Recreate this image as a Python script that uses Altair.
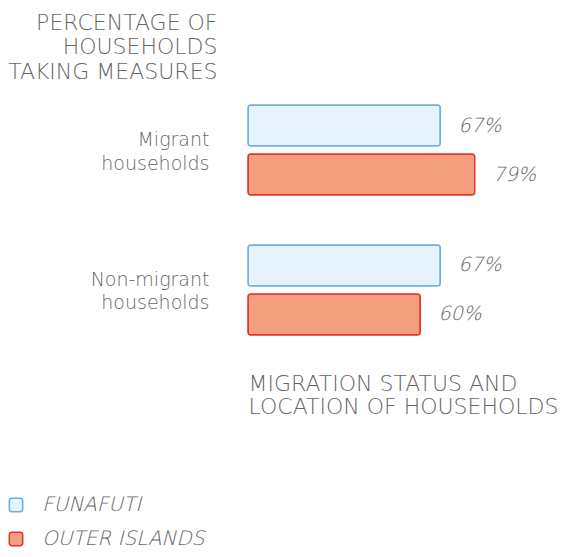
import altair as alt
import pandas as pd

groups = ["Migrant households", "Non-migrant households"]
series = ["FUNAFUTI", "OUTER ISLANDS"]
funafuti = [67, 67]
outer = [79, 60]

rows = []
for g, f, o in zip(groups, funafuti, outer):
    rows.append({"group": g, "series": series[0], "value": f, "label": f"{f}%"})
    rows.append({"group": g, "series": series[1], "value": o, "label": f"{o}%"})
df = pd.DataFrame(rows)

FONT = "DejaVu Sans"
FONT_IT = "DejaVu Sans Light, DejaVu Sans ExtraLight, DejaVu Sans"
GRAY = "#666666"
fills = ["#E6F3FD", "#F4A07E"]
strokes = ["#6FAEE0", "#E8312A"]

rounded = ("M -0.6,-1 L 0.6,-1 Q 1,-1 1,-0.6 L 1,0.6 Q 1,1 0.6,1 L -0.6,1 "
           "Q -1,1 -1,0.6 L -1,-0.6 Q -1,-1 -0.6,-1 Z")

y_enc = alt.Y(
    "group:N",
    sort=groups,
    scale=alt.Scale(paddingInner=0.357, paddingOuter=0.1786),
    axis=alt.Axis(
        title=["PERCENTAGE OF", "HOUSEHOLDS", "TAKING MEASURES"],
        titleAngle=0, titleAlign="right", titleBaseline="top",
        titleX=-31, titleY=-68, titleLineHeight=24.5,
        titleFont=FONT, titleFontSize=22, titleFontWeight=200, titleColor=GRAY,
        labelExpr="split(datum.label, ' ')",
        labelFont=FONT, labelFontSize=19, labelFontWeight=200, labelColor=GRAY,
        labelLineHeight=23.5, labelOffset=-10,
        labelPadding=39, labelAlign="right", labelBaseline="middle",
        ticks=False, domain=False, grid=False,
    ),
)
yoff = alt.YOffset("series:N", sort=series,
                   scale=alt.Scale(paddingInner=0.163, paddingOuter=0))
x_enc = alt.X(
    "value:Q",
    scale=alt.Scale(domain=[0, 100]),
    axis=alt.Axis(
        title=["MIGRATION STATUS AND", "LOCATION OF HOUSEHOLDS"],
        titleAnchor="start", titleAlign="left", titleBaseline="top",
        titleX=0, titleY=13, titleLineHeight=23,
        titleFont=FONT, titleFontSize=22, titleFontWeight=200, titleColor=GRAY,
        labels=False, ticks=False, domain=False, grid=False,
    ),
)

legend_kw = dict(
    title=None, orient="none", legendX=-242, legendY=415,
    symbolType=rounded, symbolSize=180, symbolStrokeWidth=1.5,
    labelFont=FONT_IT, labelFontSize=20, labelFontStyle="italic", labelFontWeight=200,
    labelColor=GRAY, labelOffset=16, labelLimit=400, rowPadding=14, padding=0,
)

bars = alt.Chart(df).mark_bar(cornerRadius=3, strokeWidth=1.5).encode(
    x=x_enc,
    y=y_enc,
    yOffset=yoff,
    fill=alt.Fill("series:N", sort=series,
                  scale=alt.Scale(domain=series, range=fills),
                  legend=alt.Legend(**legend_kw)),
    stroke=alt.Stroke("series:N", sort=series,
                      scale=alt.Scale(domain=series, range=strokes),
                      legend=alt.Legend(**legend_kw)),
)

labels = alt.Chart(df).mark_text(
    align="left", baseline="middle", dx=18, font=FONT_IT, fontSize=19.5,
    fontStyle="italic", fontWeight=200, color=GRAY,
).encode(
    x=alt.X("value:Q"),
    y=alt.Y("group:N", sort=groups),
    yOffset=alt.YOffset("series:N", sort=series),
    text="label:N",
)

chart = alt.layer(bars, labels).properties(
    width=287, height=280,
    autosize=alt.AutoSizeParams(type="none"),
    padding={"left": 240, "top": 72, "right": 25, "bottom": 189},
).configure_view(stroke=None)

chart.save("out.html", embed_options={"renderer": "svg", "actions": False})
